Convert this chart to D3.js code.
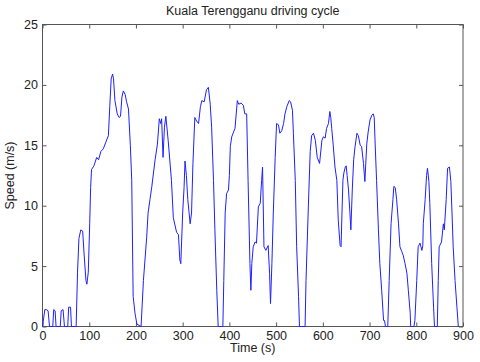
<!DOCTYPE html>
<html>
<head>
<meta charset="utf-8">
<script src="https://cdn.jsdelivr.net/npm/d3@7"></script>
<style>
  body { margin: 0; background: #fff; }
  svg text { font-family: "Liberation Sans", Arial, sans-serif; fill: #222; }
</style>
</head>
<body>
<div id="chart"></div>
<script>
// Kuala Terengganu driving cycle
const time = [0, 5, 8, 12, 15, 22, 24, 27, 29, 38, 40, 44, 47, 54, 56, 60, 62, 72, 75, 78, 82, 86, 89, 93, 95, 98, 101, 103, 105, 110, 116, 120, 125, 130, 135, 141, 144, 147, 150, 152, 155, 160, 164, 167, 170, 173, 177, 180, 184, 188, 191, 194, 198, 202, 211, 216, 223, 226, 230, 234, 241, 246, 250, 253, 255, 258, 261, 264, 269, 276, 280, 287, 291, 294, 296, 300, 303, 305, 308, 311, 316, 319, 322, 326, 330, 334, 338, 341, 346, 351, 355, 359, 362, 366, 369, 373, 376, 386, 388, 391, 394, 398, 400, 402, 405, 412, 417, 420, 425, 430, 433, 437, 440, 444, 446, 448, 451, 455, 458, 462, 466, 469, 471, 474, 478, 483, 486, 488, 491, 494, 498, 501, 505, 508, 512, 516, 519, 523, 528, 531, 535, 537, 541, 544, 548, 550, 562, 564, 569, 573, 576, 580, 584, 588, 593, 598, 601, 605, 608, 612, 615, 617, 619, 622, 626, 630, 633, 637, 639, 641, 643, 645, 648, 650, 652, 655, 658, 660, 663, 666, 669, 673, 676, 680, 683, 687, 690, 694, 697, 701, 705, 708, 710, 712, 715, 719, 722, 726, 730, 732, 734, 739, 742, 746, 750, 752, 755, 758, 762, 765, 769, 772, 776, 780, 783, 787, 788, 795, 797, 801, 804, 808, 812, 814, 815, 819, 822, 824, 827, 829, 833, 837, 839, 845, 847, 849, 854, 858, 860, 864, 867, 871, 874, 876, 879, 883, 887, 890];
const speed = [0, 1.4, 1.4, 1.3, 0, 0, 1.4, 1.3, 0, 0, 1.3, 1.4, 0, 0, 1.6, 1.6, 0, 0, 4.5, 7.3, 8.0, 7.9, 6.0, 3.8, 3.5, 4.5, 8.5, 11.5, 13.0, 13.3, 14.0, 13.8, 14.5, 14.7, 15.2, 15.8, 18.2, 20.5, 20.9, 20.5, 18.7, 17.6, 17.3, 17.4, 19.0, 19.5, 19.2, 18.6, 18.0, 15.0, 12.1, 2.5, 1.1, 0.2, 0, 3.8, 7.4, 9.4, 10.5, 11.6, 13.8, 15.1, 17.2, 16.8, 17.2, 14.0, 16.5, 17.4, 15.4, 12.1, 9.0, 7.8, 7.6, 5.5, 5.2, 9.4, 11.5, 13.7, 12.5, 10.5, 8.5, 9.4, 13.5, 17.3, 17.0, 16.8, 18.2, 18.7, 18.6, 19.6, 19.8, 18.4, 16.5, 12.1, 8.0, 3.0, 0, 0, 3.8, 9.4, 11.0, 11.3, 12.5, 14.9, 15.7, 16.4, 18.7, 18.4, 18.5, 18.3, 17.6, 17.6, 12.1, 5.2, 3.0, 5.2, 6.6, 7.0, 6.9, 9.9, 10.2, 12.1, 13.2, 6.6, 6.3, 6.7, 4.4, 1.9, 5.2, 9.4, 14.0, 16.8, 16.7, 16.0, 16.2, 16.8, 17.6, 18.2, 18.7, 18.6, 17.9, 16.0, 12.1, 6.6, 2.5, 0, 0, 3.8, 9.9, 14.5, 15.8, 16.0, 15.4, 14.0, 13.5, 15.4, 15.7, 15.6, 16.4, 16.8, 17.8, 17.3, 16.4, 15.1, 13.2, 12.1, 8.8, 6.7, 6.6, 9.4, 12.1, 12.7, 13.2, 13.3, 12.5, 11.3, 9.4, 8.0, 11.3, 13.8, 14.9, 16.0, 15.8, 15.0, 14.9, 13.5, 12.0, 15.1, 16.1, 17.1, 17.5, 17.6, 17.3, 15.1, 12.1, 8.0, 5.2, 3.0, 0.5, 0.5, 0, 0, 3.8, 8.5, 10.5, 11.6, 11.5, 10.5, 8.5, 6.6, 6.2, 5.9, 5.2, 4.4, 3.0, 1.1, 0, 0, 0.5, 3.8, 6.6, 6.9, 6.3, 6.7, 8.5, 10.5, 12.5, 13.1, 12.0, 10.2, 5.2, 1.6, 0, 0, 3.8, 6.6, 7.0, 8.5, 8.0, 10.5, 13.1, 13.2, 12.0, 9.9, 6.6, 3.8, 1.6, 0];

const xTicks = [0, 100, 200, 300, 400, 500, 600, 700, 800, 900];
const yTicks = [0, 5, 10, 15, 20, 25];

const width = 480, height = 362;
const plotLeft = 42.5, plotRight = 463, plotTop = 24.5, plotBottom = 326.5;

const svg = d3.select("#chart").append("svg")
  .attr("width", width)
  .attr("height", height);

const x = d3.scaleLinear().domain([0, 900]).range([plotLeft, plotRight]);
const y = d3.scaleLinear().domain([0, 25]).range([plotBottom, plotTop]);

// box around the plot
svg.append("rect")
  .attr("x", plotLeft).attr("y", plotTop)
  .attr("width", plotRight - plotLeft).attr("height", plotBottom - plotTop)
  .attr("fill", "none").attr("stroke", "#555").attr("stroke-width", 1);

const axisStyle = (g) => {
  g.select(".domain").remove();
  g.selectAll(".tick line").attr("stroke", "#555");
  g.selectAll(".tick text").attr("font-size", "12.5px").attr("fill", "#222");
};

svg.append("g")
  .attr("transform", `translate(0,${plotBottom})`)
  .call(d3.axisBottom(x).tickValues(xTicks).tickSize(-4).tickPadding(5))
  .call(axisStyle);

svg.append("g")
  .attr("transform", `translate(0,${plotTop})`)
  .call(d3.axisTop(x).tickValues(xTicks).tickSize(-4).tickFormat(""))
  .call(axisStyle);

svg.append("g")
  .attr("transform", `translate(${plotLeft},0)`)
  .call(d3.axisLeft(y).tickValues(yTicks).tickSize(-4).tickPadding(4.5))
  .call(axisStyle);

svg.append("g")
  .attr("transform", `translate(${plotRight},0)`)
  .call(d3.axisRight(y).tickValues(yTicks).tickSize(-4).tickFormat(""))
  .call(axisStyle);

const line = d3.line()
  .x((d, i) => x(time[i]))
  .y((d) => y(d));

svg.append("path")
  .datum(speed)
  .attr("d", line)
  .attr("fill", "none")
  .attr("stroke", "#1f1fff")
  .attr("stroke-width", 1);

svg.append("text")
  .attr("x", (plotLeft + plotRight) / 2)
  .attr("y", 15)
  .attr("text-anchor", "middle")
  .attr("font-size", "12.5px")
  .text("Kuala Terengganu driving cycle");

svg.append("text")
  .attr("x", (plotLeft + plotRight) / 2)
  .attr("y", 352)
  .attr("text-anchor", "middle")
  .attr("font-size", "12.5px")
  .text("Time (s)");

svg.append("text")
  .attr("transform", `translate(14,${(plotTop + plotBottom) / 2}) rotate(-90)`)
  .attr("text-anchor", "middle")
  .attr("font-size", "12.5px")
  .text("Speed (m/s)");
</script>
</body>
</html>
